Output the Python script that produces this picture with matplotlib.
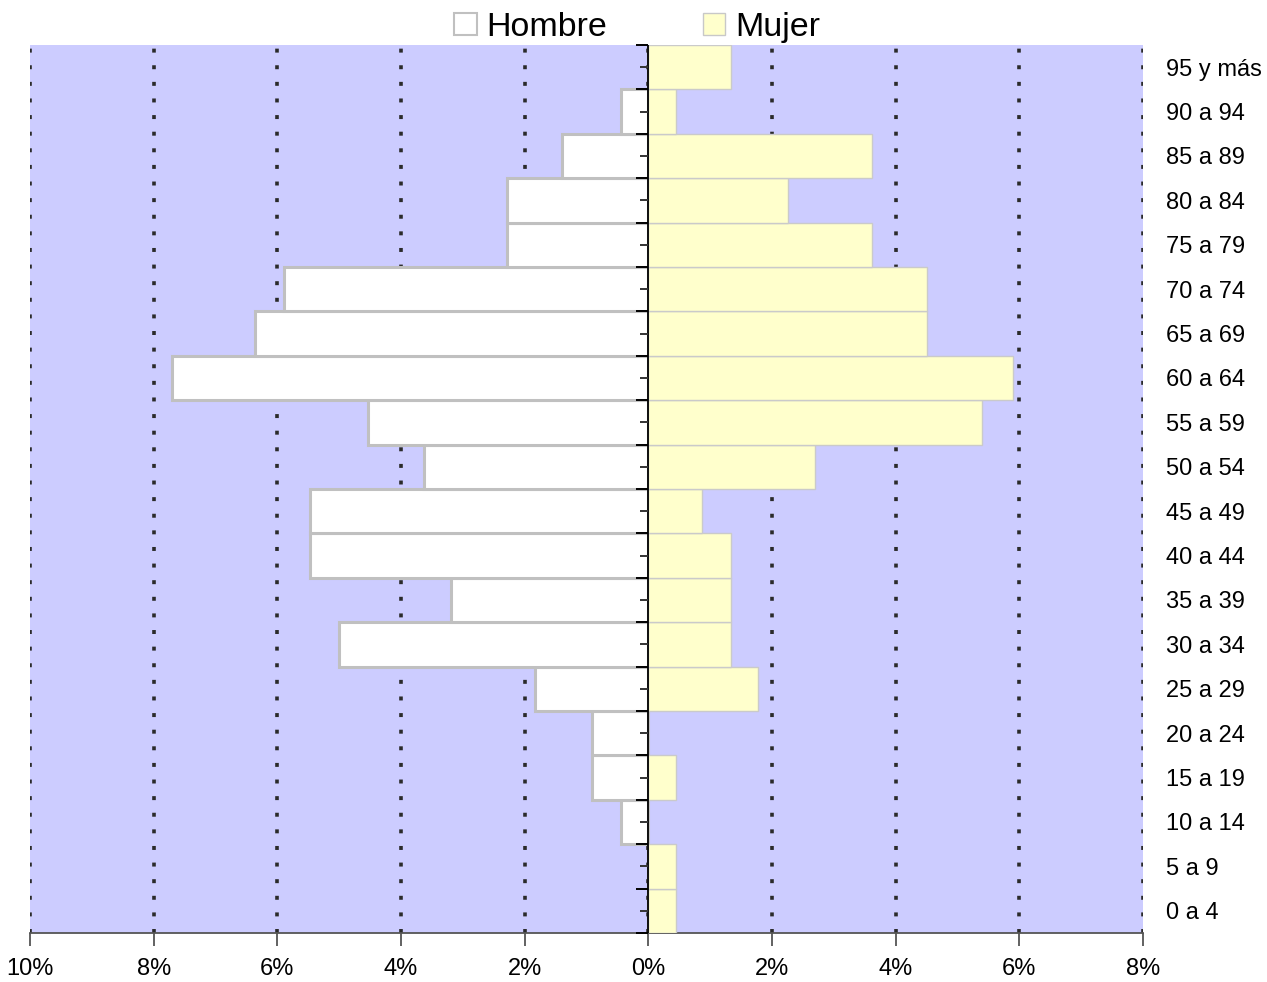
import matplotlib
matplotlib.use("Agg")
import matplotlib.pyplot as plt
from matplotlib.patches import Patch
from matplotlib.ticker import FuncFormatter, MultipleLocator
import numpy as np

plt.rcParams['font.family'] = ['Liberation Sans', 'DejaVu Sans']

# age groups, bottom to top
grupos = ["0 a 4", "5 a 9", "10 a 14", "15 a 19", "20 a 24", "25 a 29",
          "30 a 34", "35 a 39", "40 a 44", "45 a 49", "50 a 54", "55 a 59",
          "60 a 64", "65 a 69", "70 a 74", "75 a 79", "80 a 84", "85 a 89",
          "90 a 94", "95 y más"]
# percentages
hombre = [0.0, 0.0, 0.45, 0.91, 0.91, 1.84, 5.01, 3.19, 5.47, 5.47, 3.62,
          4.53, 7.70, 6.36, 5.90, 2.28, 2.28, 1.39, 0.45, 0.0]
mujer = [0.44, 0.44, 0.0, 0.44, 0.0, 1.78, 1.33, 1.33, 1.33, 0.87, 2.70,
         5.39, 5.89, 4.50, 4.50, 3.61, 2.26, 3.61, 0.44, 1.33]

fig = plt.figure(figsize=(12.67, 9.82), dpi=100)
ax = fig.add_axes([30 / 1267, 49 / 982, 1113 / 1267, 888 / 982])
ax.set_facecolor('#CCCCFF')

y = np.arange(len(grupos))
ax.barh(y, -np.array(hombre), height=1.0, color='white',
        edgecolor='#C0C0C0', linewidth=2.2, zorder=3)
ax.barh(y, mujer, height=1.0, color='#FFFFCC',
        edgecolor='#CACACA', linewidth=1.0, zorder=3)

ax.set_xlim(-10, 8)
ax.set_ylim(-0.5, len(grupos) - 0.5)

# dashed vertical gridlines
for xv in np.arange(-10, 9, 2):
    ax.axvline(xv, color='#2a2a2a', linewidth=2.6, linestyle=(0, (1.1, 3.5)),
               zorder=2)

# central axis with ticks
ax.axvline(0, color='black', linewidth=1.3, zorder=4)
bounds = np.arange(len(grupos) + 1) - 0.5
ax.plot(np.zeros(len(bounds)), bounds, ls='none', marker=0, ms=9,
        mew=1.4, color='black', zorder=4, clip_on=False)
ax.plot(np.zeros(len(y)), y, ls='none', marker=0, ms=6,
        mew=1.4, color='#333333', zorder=4)

for s in ['top', 'right', 'left']:
    ax.spines[s].set_visible(False)
ax.spines['bottom'].set_color('#555555')
ax.spines['bottom'].set_linewidth(1.3)

ax.xaxis.set_major_locator(MultipleLocator(2))
ax.xaxis.set_major_formatter(FuncFormatter(lambda v, p: f"{abs(v):.0f}%"))
ax.tick_params(axis='x', length=9, width=1.3, color='#555555',
               labelsize=17, pad=9)

ax.yaxis.tick_right()
ax.set_yticks(y)
ax.set_yticklabels(grupos)
ax.tick_params(axis='y', length=0, labelsize=17, pad=16.5)

handles = [Patch(facecolor='white', edgecolor='#C0C0C0', linewidth=1.5),
           Patch(facecolor='#FFFFCC', edgecolor='#C8C8C8', linewidth=1.0)]
fig.legend(handles, ["Hombre", "Mujer"], loc='upper center',
           bbox_to_anchor=(0.503, 1.019), ncol=2, frameon=False,
           fontsize=24.5, handlelength=0.65, handleheight=0.65,
           handletextpad=0.3, columnspacing=2.8)

fig.savefig("out.png", dpi=100)
